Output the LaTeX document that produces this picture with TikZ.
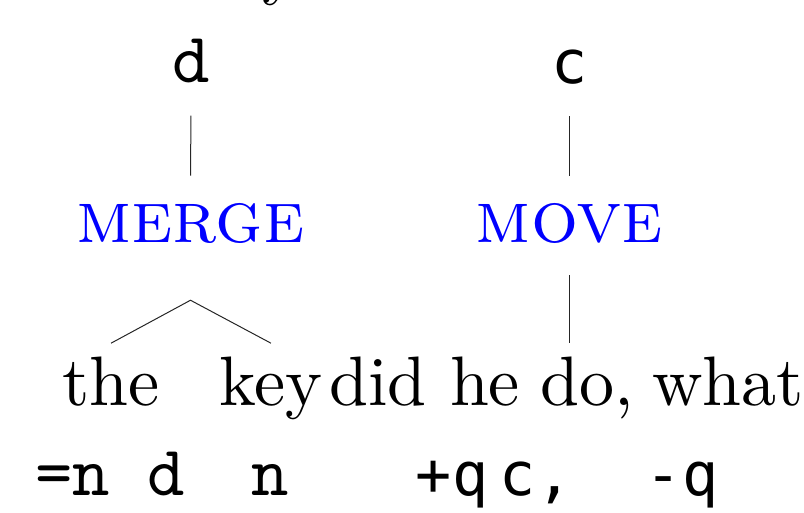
\documentclass[tikz,border=0pt]{standalone}
\usepackage{fontspec}
\setmainfont{lmroman10-regular.otf}[SmallCapsFont=lmromancaps10-regular.otf]
\setmonofont{lmmono10-regular.otf}
\newfontfamily\sansmono{DejaVu Sans Mono}
\usetikzlibrary{calc}
\begin{document}
\begin{tikzpicture}[x=1pt,y=-1pt,
  every node/.style={inner sep=0pt, anchor=base},
  word/.style={font=\fontsize{70}{84}\selectfont},
  feat/.style={font=\fontsize{71}{84}\selectfont\ttfamily},
  sfeat/.style={font=\fontsize{60}{72}\selectfont\sansmono},
  op/.style={text=blue, font=\fontsize{74}{88}\selectfont\scshape},
  edge/.style={line width=1pt, draw=black!85}]
\useasboundingbox (0,0) rectangle (804,513);
\clip (0,0) rectangle (804,513);

% tail of the line above
\node[word, anchor=base west] (above) at (262,-8) {y};

% category labels
\node[feat]  (catd) at (191,83) {d};
\node[sfeat] (catc) at (569.5,84) {c};

% operations
\node[op] (merge) at (190.5,243) {merge};
\node[op] (move)  at (569.5,243) {move};

% sentence
\node[word] (the)  at (111,406) {the};
\node[word] (key)  at (271,406) {key};
\node[word] (did)  at (378,406) {did};
\node[word] (he)   at (485,406) {he};
\node[word] (do)   at (587,406) {do,};
\node[word] (what) at (728,406) {what};

% feature strings
\node[feat]  (fthe) at (110,495) {=n d};
\node[feat]  (fkey) at (270,495) {n};
\node[sfeat] (fpq)  at (452,495) {+q};
\node[sfeat] (fc)   at (536,495) {c,};
\node[sfeat] (fmq)  at (682,495) {-q};

% tree edges
\draw[edge, shorten <=32pt, shorten >=28pt] (catd.south) -- (merge.north);
\draw[edge, shorten <=31pt, shorten >=28pt] (catc.south) -- (move.north);
\draw[edge, shorten <=31pt] (move.south) -- ([yshift=14pt]move.south |- do.north);
\coordinate (apex) at ($(merge.south)+(0,56)$);
\draw[edge] ([yshift=14pt]the.north) -- (apex) -- ([yshift=14pt]key.north);
\end{tikzpicture}
\end{document}
